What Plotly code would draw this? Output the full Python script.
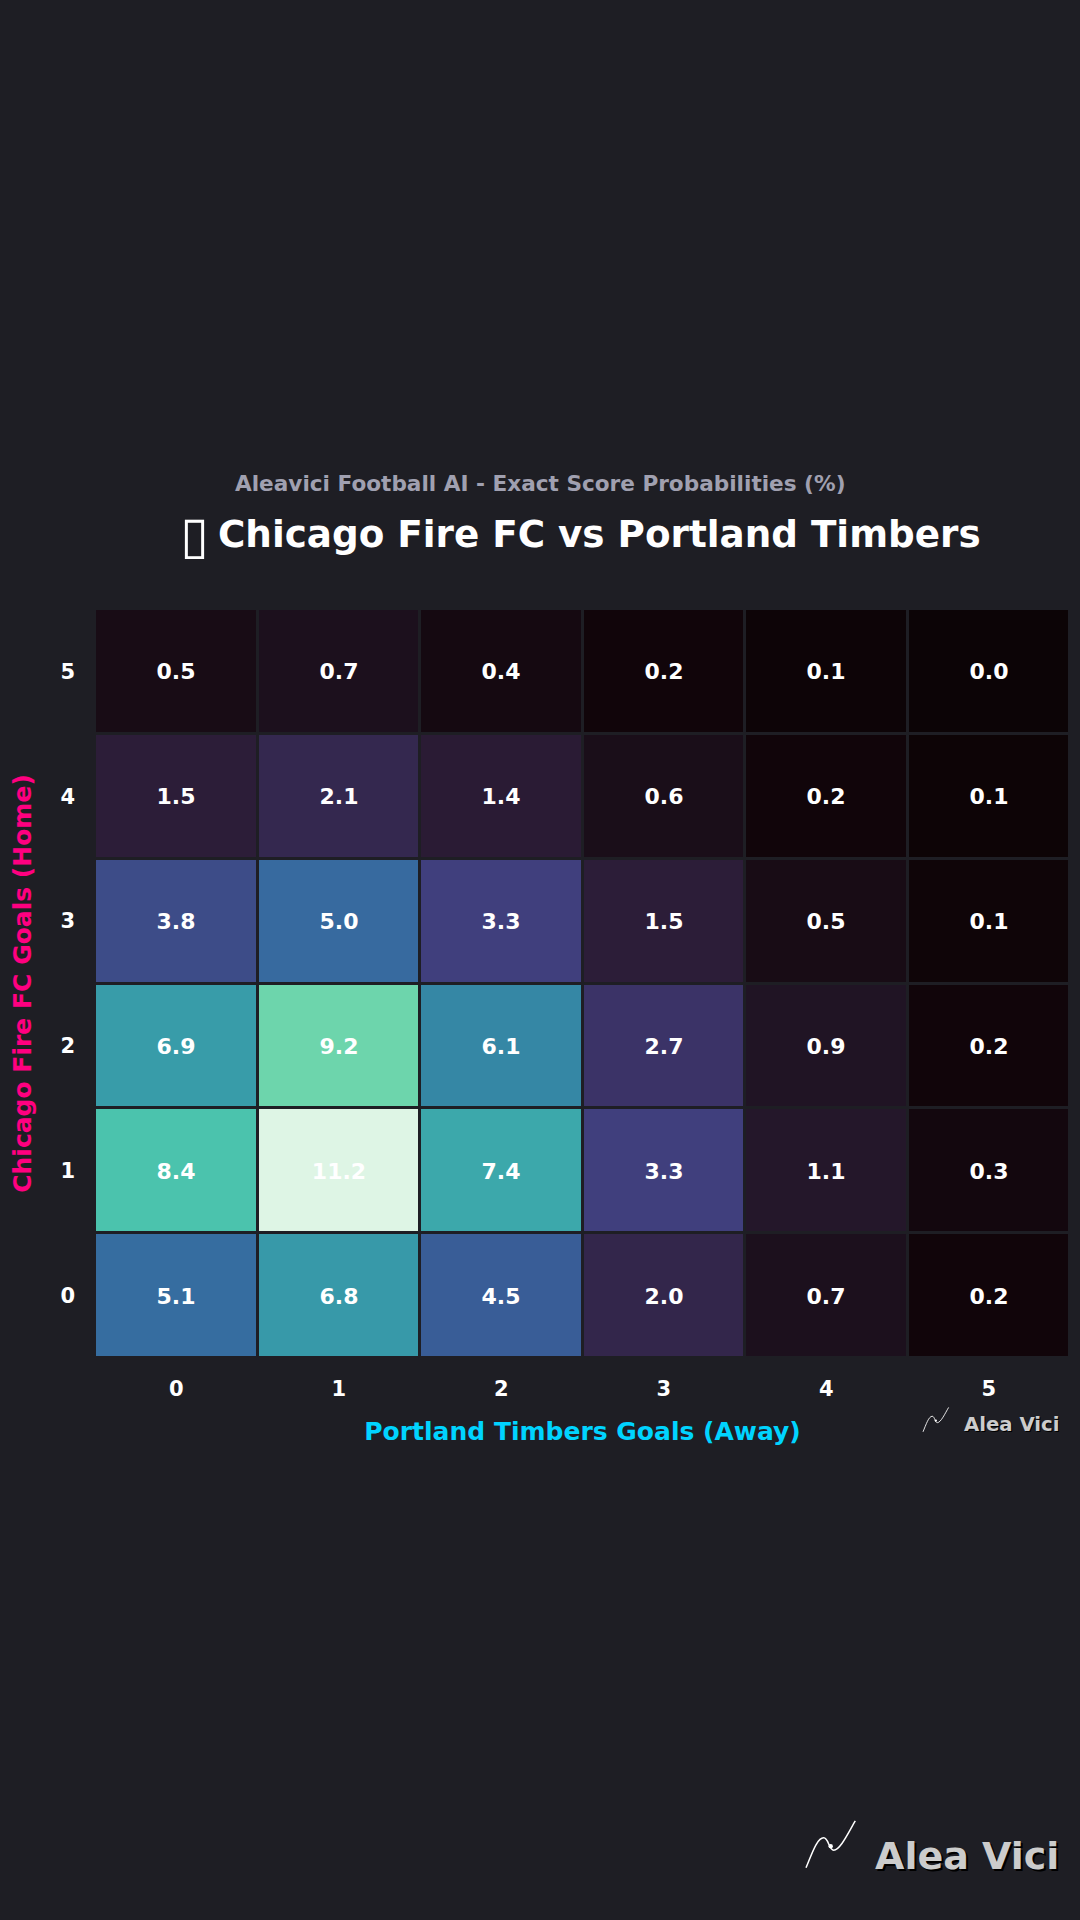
import plotly.graph_objects as go

# score probabilities (%), rows = home goals 0..5, cols = away goals 0..5
# values under 0.2 keep a second decimal because the cell shades differ
away_goals = [0, 1, 2, 3, 4, 5]
home_goals = [0, 1, 2, 3, 4, 5]
row_home_0 = [5.1, 6.8, 4.5, 2.0, 0.7, 0.2]
row_home_1 = [8.4, 11.2, 7.4, 3.3, 1.1, 0.3]
row_home_2 = [6.9, 9.2, 6.1, 2.7, 0.9, 0.2]
row_home_3 = [3.8, 5.0, 3.3, 1.5, 0.5, 0.14]
row_home_4 = [1.5, 2.1, 1.4, 0.6, 0.2, 0.06]
row_home_5 = [0.5, 0.7, 0.4, 0.2, 0.08, 0.03]
probs = [row_home_0, row_home_1, row_home_2, row_home_3, row_home_4, row_home_5]

BG = '#1e1e24'
FONT = 'DejaVu Sans'
W, H = 1080, 1920
L, R, T, B = 95, 1070, 608.5, 1358.5

# seaborn mako
mako = [
    [0.0, '#0b0405'], [0.018, '#11050a'], [0.07, '#1e1220'], [0.143, '#2e1e3b'], [0.286, '#413d7b'],
    [0.429, '#37659e'], [0.571, '#348fa7'], [0.714, '#40b7ad'], [0.75, '#4bc3ad'], [0.821, '#6dd5ac'],
    [0.857, '#8bdab2'], [1.0, '#def5e5'],
]


def px_x(x):
    return (x - L) / (R - L)


def px_y(y):
    return (B - y) / (B - T)


def logo(x0, y0, s):
    # squiggle of the Alea Vici mark, x0/y0 = top-left in page pixels
    pts = [(0, 47), (6, 32.7), (11, 17), (17.7, 17), (22.7, 17), (22.7, 29.3), (27.7, 29.3),
           (34.3, 29.3), (42.7, 11), (49.3, 0)]
    c = [(px_x(x0 + p[0] * s), px_y(y0 + p[1] * s)) for p in pts]
    d = f'M{c[0][0]},{c[0][1]}'
    for i in range(1, len(c), 3):
        d += f' C{c[i][0]},{c[i][1]} {c[i + 1][0]},{c[i + 1][1]} {c[i + 2][0]},{c[i + 2][1]}'
    return dict(type='path', xref='paper', yref='paper', path=d,
                line=dict(color='white', width=1.3 * s + 0.2), layer='above')


def logo_dot(x0, y0, s):
    cx, cy, r = x0 + 24.7 * s, y0 + 25.3 * s, 2.2 * s
    return dict(type='circle', xref='paper', yref='paper', fillcolor='white', line_width=0,
                x0=px_x(cx - r), x1=px_x(cx + r), y0=px_y(cy + r), y1=px_y(cy - r))


fig = go.Figure(go.Heatmap(
    z=probs, x=away_goals, y=home_goals,
    colorscale=mako, zmin=0, zmax=11.2, showscale=False,
    xgap=3, ygap=3,
    texttemplate='%{z:.1f}',
    textfont=dict(family=FONT, size=22, color='white', weight='bold'),
))

fig.update_layout(
    width=W, height=H,
    margin=dict(l=L, r=W - R, t=T, b=H - B),
    paper_bgcolor=BG, plot_bgcolor=BG,
    font=dict(family=FONT, color='white'),
    shapes=[logo(806, 1822, 1), logo_dot(806, 1822, 1), logo(923, 1408, 0.52), logo_dot(923, 1408, 0.52)],
    annotations=[
        dict(text='Aleavici Football AI - Exact Score Probabilities (%)', xref='paper', yref='paper',
             x=px_x(540), y=px_y(483), yanchor='middle', showarrow=False,
             font=dict(family=FONT, size=21.6, color='#a0a0b0', weight='bold')),
        dict(text='▯', xref='paper', yref='paper',
             x=px_x(194), y=px_y(534), xanchor='center', yanchor='middle', showarrow=False,
             font=dict(family=FONT, size=52, color='white')),
        dict(text='Chicago Fire FC vs Portland Timbers', xref='paper', yref='paper',
             x=px_x(216), y=px_y(533), xanchor='left', yanchor='middle', showarrow=False,
             font=dict(family=FONT, size=37.3, color='white', weight='bold')),
        dict(text='Alea Vici', xref='paper', yref='paper',
             x=px_x(1061), y=px_y(1857), xanchor='right', yanchor='middle', showarrow=False,
             font=dict(family=FONT, size=38, color='#cccccc', weight='bold', shadow='2px 2px 0 #000')),
        dict(text='Alea Vici', xref='paper', yref='paper',
             x=px_x(1062), y=px_y(1425), xanchor='right', yanchor='middle', showarrow=False,
             font=dict(family=FONT, size=19.7, color='#cccccc', weight='bold', shadow='1px 1px 0 #000')),
    ],
)
fig.update_xaxes(
    tickmode='array', tickvals=away_goals, ticklen=0, showgrid=False, zeroline=False,
    ticklabelstandoff=16,
    tickfont=dict(family=FONT, size=21, color='white', weight='bold'),
    title=dict(text='Portland Timbers Goals (Away)', standoff=22,
               font=dict(family=FONT, size=25, color='#00d4ff', weight='bold')),
)
fig.update_yaxes(
    tickmode='array', tickvals=home_goals, ticklen=0, showgrid=False, zeroline=False,
    ticklabelstandoff=19,
    tickfont=dict(family=FONT, size=21, color='white', weight='bold'),
    title=dict(text='Chicago Fire FC Goals (Home)', standoff=21,
               font=dict(family=FONT, size=25, color='#ff0080', weight='bold')),
)

fig.write_html('out.html', config={'displayModeBar': False},
               post_script="document.body.style.margin='0';document.body.style.background='" + BG + "';")
